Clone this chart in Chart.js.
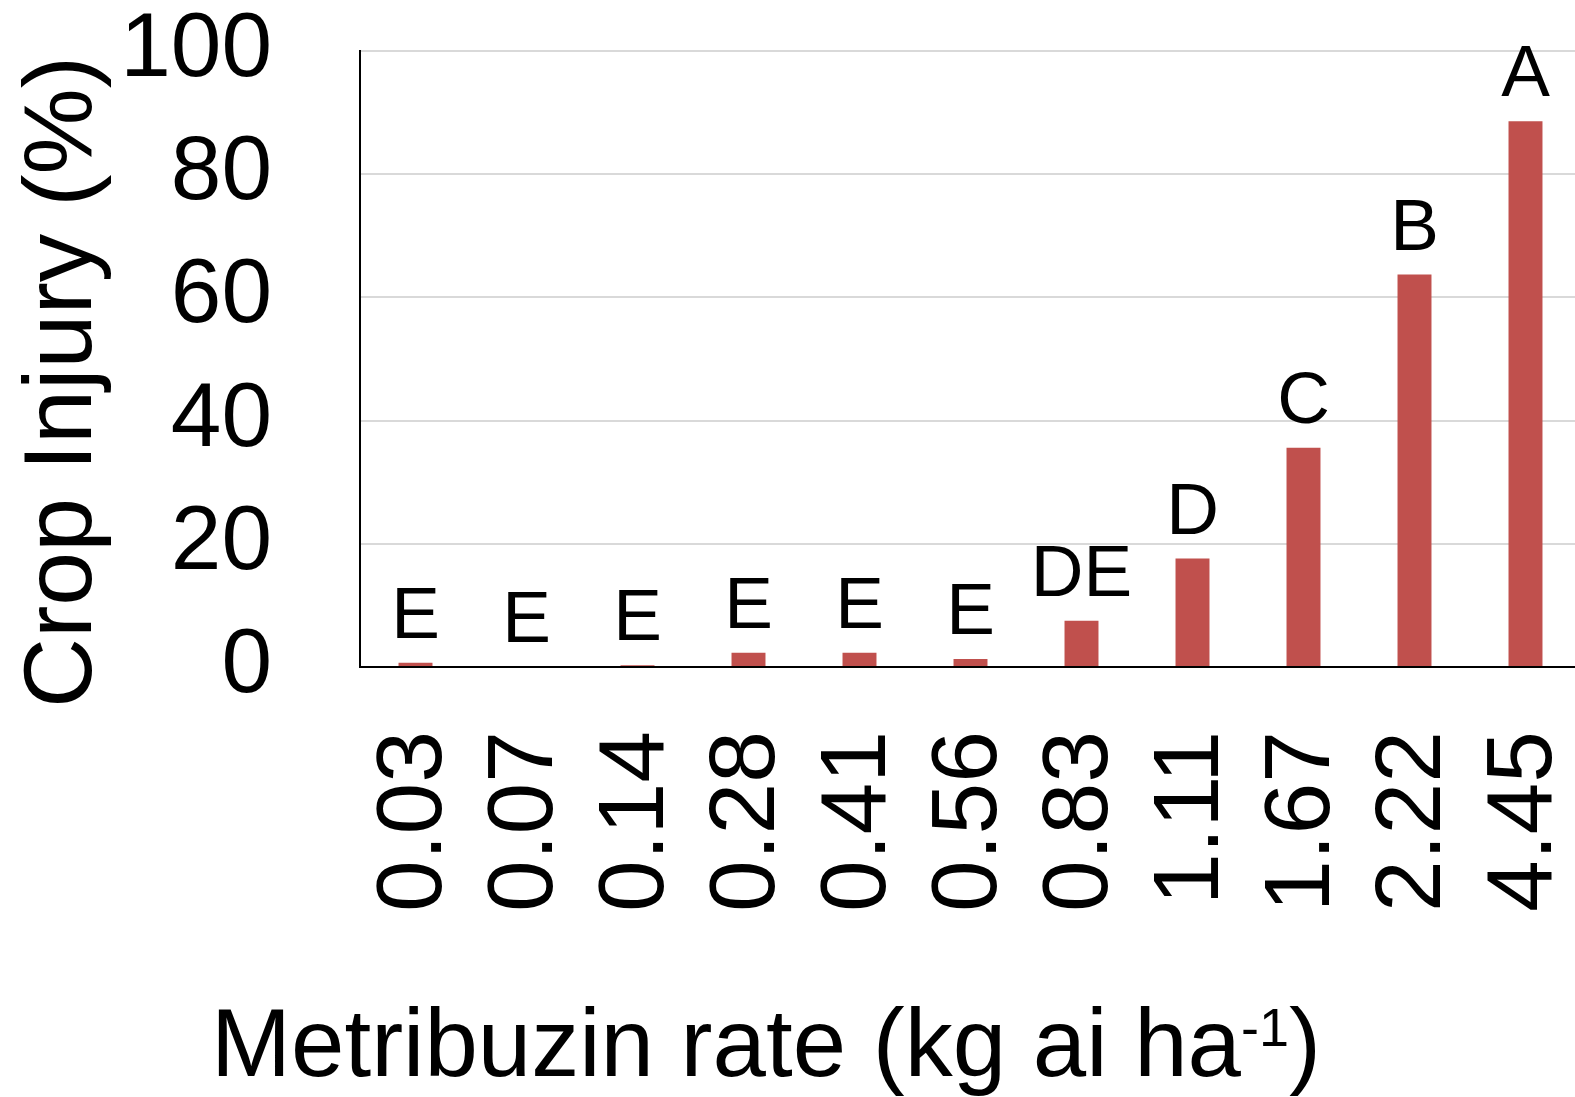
<!DOCTYPE html>
<html>
<head>
<meta charset="utf-8">
<script src="https://cdn.jsdelivr.net/npm/chart.js@4.4.1/dist/chart.umd.min.js"></script>
<style>
    body { margin: 0; background: #ffffff; overflow: hidden; }
    #caixa { width: 1582px; height: 1097px; position: relative; }
</style>
</head>
<body>
<div id="caixa"><canvas id="grafico"></canvas></div>
<script>
// dados
const taxas = ['0.03', '0.07', '0.14', '0.28', '0.41', '0.56', '0.83', '1.11', '1.67', '2.22', '4.45'];
const injuria = [0.7, 0, 0.3, 2.3, 2.3, 1.3, 7.5, 17.6, 35.6, 63.7, 88.6];
const letras = ['E', 'E', 'E', 'E', 'E', 'E', 'DE', 'D', 'C', 'B', 'A'];
const ticksY = [0, 20, 40, 60, 80, 100];

const fonte = "'Liberation Sans', Arial, sans-serif";

// letras de significancia em cima de cada barra
const pluginLetras = {
    id: 'letras',
    afterDatasetsDraw(chart) {
        const ctx = chart.ctx;
        const meta = chart.getDatasetMeta(0);
        ctx.save();
        ctx.fillStyle = '#000000';
        ctx.font = '73px ' + fonte;
        ctx.textAlign = 'center';
        ctx.textBaseline = 'alphabetic';
        meta.data.forEach((barra, i) => {
            ctx.fillText(letras[i], barra.x, barra.y - 25);
        });
        ctx.restore();
    }
};

// titulos dos eixos (o do x tem expoente)
const pluginTitulos = {
    id: 'titulos',
    afterDraw(chart) {
        const ctx = chart.ctx;
        ctx.save();
        ctx.fillStyle = '#000000';

        ctx.translate(91, 382);
        ctx.rotate(-Math.PI / 2);
        ctx.font = '97px ' + fonte;
        ctx.textAlign = 'center';
        ctx.textBaseline = 'alphabetic';
        ctx.fillText('Crop Injury (%)', 0, 0);
        ctx.setTransform(1, 0, 0, 1, 0, 0);

        const parte1 = 'Metribuzin rate (kg ai ha';
        const sup = '-1';
        const parte2 = ')';
        ctx.textAlign = 'left';
        ctx.font = '96px ' + fonte;
        const w1 = ctx.measureText(parte1).width;
        const w3 = ctx.measureText(parte2).width;
        ctx.font = '54px ' + fonte;
        const w2 = ctx.measureText(sup).width;
        let x = 766 - (w1 + w2 + w3) / 2;
        const base = 1076;
        ctx.font = '96px ' + fonte;
        ctx.fillText(parte1, x, base);
        x += w1;
        ctx.font = '54px ' + fonte;
        ctx.fillText(sup, x, base - 30);
        x += w2;
        ctx.font = '96px ' + fonte;
        ctx.fillText(parte2, x, base);
        ctx.restore();
    }
};

const ctxGrafico = document.getElementById('grafico');

new Chart(ctxGrafico, {
    type: 'bar',
    data: {
        labels: taxas,
        datasets: [{
            label: 'Crop Injury',
            data: injuria,
            backgroundColor: '#C0504D',
            categoryPercentage: 1,
            barPercentage: 0.306
        }]
    },
    plugins: [pluginLetras, pluginTitulos],
    options: {
        responsive: true,
        maintainAspectRatio: false,
        animation: false,
        layout: {
            padding: { top: 51, right: 1, bottom: 0, left: 0 }
        },
        plugins: {
            legend: { display: false },
            tooltip: { enabled: false }
        },
        scales: {
            x: {
                afterFit(escala) {
                    escala.height = 430;
                    escala.paddingLeft = 0;
                    escala.paddingRight = 0;
                },
                grid: { display: false, drawTicks: false },
                border: { display: true, color: '#000000', width: 2 },
                ticks: {
                    color: '#000000',
                    minRotation: 90,
                    maxRotation: 90,
                    autoSkip: false,
                    padding: 64,
                    font: { family: fonte, size: 93, lineHeight: 1 }
                }
            },
            y: {
                min: 0,
                max: 100,
                afterFit(escala) {
                    escala.width = 360;
                    escala.paddingTop = 0;
                    escala.paddingBottom = 0;
                },
                afterBuildTicks(escala) {
                    escala.ticks = ticksY.map(v => ({ value: v }));
                },
                grid: {
                    drawTicks: false,
                    color: '#d9d9d9',
                    lineWidth: 2
                },
                border: { display: true, color: '#000000', width: 2 },
                ticks: {
                    color: '#000000',
                    padding: 88,
                    font: { family: fonte, size: 91, lineHeight: 1 }
                }
            }
        }
    }
});
</script>
</body>
</html>
